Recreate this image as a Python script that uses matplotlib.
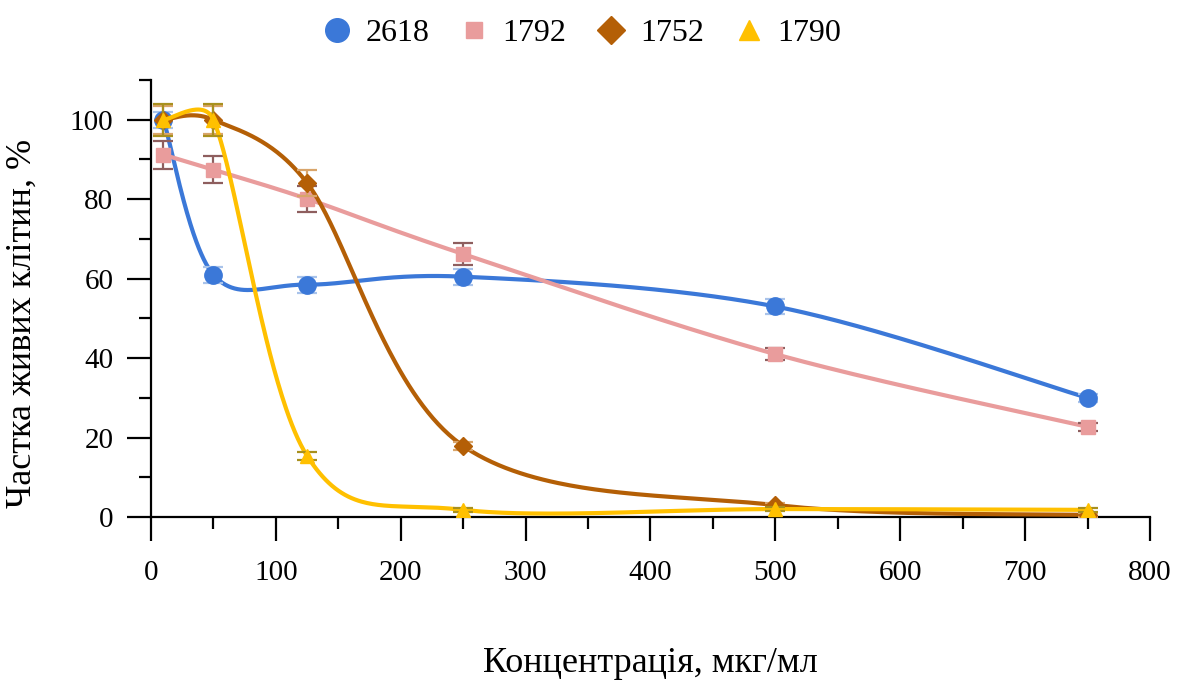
import numpy as np
import matplotlib.pyplot as plt
from matplotlib.lines import Line2D
from matplotlib.ticker import MultipleLocator

plt.rcParams['font.family'] = ['Liberation Serif', 'DejaVu Serif']

conc = [10, 50, 125, 250, 500, 750]

names = ["2618", "1792", "1752", "1790"]
v2618 = [100, 61, 58.5, 60.5, 53, 30]
v1792 = [91.2, 87.4, 80.1, 66.2, 41, 22.7]
v1752 = [100, 100, 84.1, 17.9, 3, 0.5]
v1790 = [100, 100, 15.4, 1.8, 2, 1.8]

e2618 = [2, 2, 2, 2, 2, 1]
e1792 = [3.5, 3.4, 3.3, 2.8, 1.5, 1]
e1752 = [3.5, 3.5, 3.3, 1, 0.5, 0.5]
e1790 = [4, 4, 1, 0.5, 0.5, 0.5]

values = [v2618, v1792, v1752, v1790]
errors = [e2618, e1792, e1752, e1790]
colors = ["#3b78d8", "#e99c9c", "#b45f06", "#ffc000"]
err_colors = ["#a9c3ea", "#8e5e5e", "#d9a56b", "#a8901e"]
markers = ["o", "s", "D", "^"]
msizes = [12.5, 10, 9.5, 10.5]
leg_sizes = [17, 12, 14, 14]


def smooth(ax, x, y, n=80):
    # bezier smoothing done in pixel space; control arms are 1/6 of the
    # neighbour chord but never longer than half of the segment
    pts_d = np.column_stack([x, y]).astype(float)
    p = ax.transData.transform(pts_d)
    out = []
    for i in range(len(p) - 1):
        p0 = p[i]
        p1 = p[i + 1]
        pm = p[i - 1] if i > 0 else p0
        pn = p[i + 2] if i + 2 < len(p) else p1
        seg_len = np.hypot(*(p1 - p0))
        t1 = (p1 - pm) / 6
        t2 = (pn - p0) / 6
        for tv in (t1, t2):
            ln = np.hypot(*tv)
            if ln > seg_len / 2:
                tv *= (seg_len / 2) / ln
        c1 = p0 + t1
        c2 = p1 - t2
        t = np.linspace(0, 1, n)[:, None]
        seg = ((1 - t) ** 3) * p0 + 3 * ((1 - t) ** 2) * t * c1 \
            + 3 * (1 - t) * t ** 2 * c2 + t ** 3 * p1
        out.append(seg if i == 0 else seg[1:])
    out = ax.transData.inverted().transform(np.vstack(out))
    return out[:, 0], out[:, 1]


fig = plt.figure(figsize=(11.83, 6.8), dpi=100)
ax = fig.add_axes([0.1276, 0.2397, 0.8445, 0.6426])
ax.set_xlim(0, 800)
ax.set_ylim(0, 110)

handles = []
for i in range(4):
    sx, sy = smooth(ax, conc, values[i])
    ax.plot(sx, sy, color=colors[i], lw=3, zorder=2 + i)
    ax.errorbar(conc, values[i], yerr=errors[i], fmt="none", ecolor=err_colors[i],
                elinewidth=1.6, capsize=7.5, capthick=1.6, zorder=2 + i)
    ax.plot(conc, values[i], ls="none", marker=markers[i], ms=msizes[i],
            color=colors[i], mec=colors[i], zorder=2.5 + i)
    handles.append(Line2D([], [], ls="none", marker=markers[i], ms=leg_sizes[i],
                          color=colors[i]))

ax.xaxis.set_major_locator(MultipleLocator(100))
ax.xaxis.set_minor_locator(MultipleLocator(50))
ax.yaxis.set_minor_locator(MultipleLocator(10))
ax.set_yticks([0, 20, 40, 60, 80, 100])

for s in ["top", "right"]:
    ax.spines[s].set_visible(False)
for s in ["left", "bottom"]:
    ax.spines[s].set_linewidth(1.6)

ax.tick_params(axis="both", which="major", direction="out", length=17, width=1.6,
               labelsize=21, pad=10)
ax.tick_params(axis="x", which="major", pad=14)
ax.tick_params(axis="both", which="minor", direction="out", length=8.5, width=1.6)

ax.set_xlabel("Концентрація, мкг/мл", fontsize=26, labelpad=44)
ax.set_ylabel("Частка живих клітин, %", fontsize=26)
ax.yaxis.set_label_coords(-0.112, 0.444)

fig.legend(handles, names, loc="upper center", bbox_to_anchor=(0.491, 1.015),
           ncol=4, frameon=False, fontsize=23, handlelength=1.0,
           handletextpad=0.4, columnspacing=0.9)

fig.savefig("out.png", dpi=100)
